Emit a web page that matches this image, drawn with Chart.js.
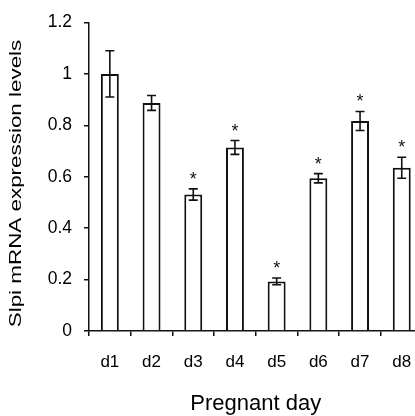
<!DOCTYPE html>
<html>
<head>
<meta charset="utf-8">
<script src="https://cdn.jsdelivr.net/npm/chart.js@4"></script>
<style>
  html, body { margin: 0; padding: 0; background: #fff; overflow: hidden; }
  #wrap { width: 415px; height: 416px; overflow: hidden; }
  canvas { display: block; }
</style>
</head>
<body>
<div id="wrap"><canvas id="slpiChart" width="430" height="416"></canvas></div>
<script>
// ===== DATA =====
const days = ['d1', 'd2', 'd3', 'd4', 'd5', 'd6', 'd7', 'd8'];
const means = [1.0, 0.887, 0.531, 0.714, 0.193, 0.594, 0.817, 0.635];
const errors = [0.09, 0.029, 0.022, 0.027, 0.013, 0.018, 0.037, 0.041];
const significant = [false, false, true, true, true, true, true, true];
const yTicks = [0, 0.2, 0.4, 0.6, 0.8, 1, 1.2];

const FONT = "'Liberation Sans', Arial, sans-serif";
const INK = '#111';

// error bars + asterisks, positioned through the chart scales
const errorBarPlugin = {
  id: 'errorBars',
  afterDatasetsDraw(chart) {
    const ctx = chart.ctx;
    const yScale = chart.scales.y;
    const meta = chart.getDatasetMeta(0);
    ctx.save();
    ctx.strokeStyle = INK;
    ctx.lineWidth = 1.6;
    ctx.fillStyle = INK;
    ctx.font = `18px ${FONT}`;
    ctx.textAlign = 'center';
    ctx.textBaseline = 'alphabetic';
    meta.data.forEach((bar, i) => {
      const x = bar.x;
      const top = yScale.getPixelForValue(means[i] + errors[i]);
      const bot = yScale.getPixelForValue(means[i] - errors[i]);
      ctx.beginPath();
      ctx.moveTo(x, top); ctx.lineTo(x, bot);
      ctx.moveTo(x - 4.5, top); ctx.lineTo(x + 4.5, top);
      ctx.moveTo(x - 4.5, bot); ctx.lineTo(x + 4.5, bot);
      ctx.stroke();
      if (significant[i]) ctx.fillText('*', x, top - 4);
    });
    ctx.restore();
  }
};

const chart = new Chart(document.getElementById('slpiChart'), {
  type: 'bar',
  data: {
    labels: days,
    datasets: [{
      data: means,
      backgroundColor: '#fff',
      borderColor: INK,
      borderWidth: 2,
      barPercentage: 0.43,
      categoryPercentage: 1,
    }]
  },
  plugins: [errorBarPlugin],
  options: {
    responsive: false,
    animation: false,
    layout: { padding: { top: 20, right: 7.4, bottom: 0, left: 0 } },
    plugins: { legend: { display: false }, tooltip: { enabled: false } },
    scales: {
      x: {
        afterFit: s => { s.height = 85; },
        grid: { drawOnChartArea: false, tickLength: 5, color: INK, lineWidth: 1.5 },
        border: { color: INK, width: 1.5 },
        ticks: { color: '#000', font: { family: FONT, size: 17 }, padding: 16, maxRotation: 0 },
        title: {
          display: true, text: 'Pregnant day', color: '#000',
          font: { family: FONT, size: 22, lineHeight: 1 },
          padding: { top: 0, bottom: 1 }
        }
      },
      y: {
        min: 0, max: 1.2,
        afterFit: s => { s.width = 89; },
        afterBuildTicks: s => { s.ticks = yTicks.map(v => ({ value: v })); },
        grid: { drawOnChartArea: false, tickLength: 5, color: INK, lineWidth: 1.5 },
        border: { color: INK, width: 1.5 },
        ticks: { color: '#000', font: { family: FONT, size: 17.5 }, padding: 12,
          callback: v => String(+v.toFixed(1)) },
        title: {
          display: true, text: 'Slpi mRNA expression levels', color: '#000',
          font: { family: FONT, size: 16, lineHeight: 1.2 },
          padding: { top: 7, bottom: 0 }
        }
      }
    }
  }
});

// ===== STRETCHED Y TITLE (reference text is elongated along its axis) =====
const yScale = chart.scales.y;
const baseDrawTitle = yScale.drawTitle.bind(yScale);
yScale.drawTitle = function () {
  const ctx = this.ctx;
  const mid = (chart.chartArea.top + chart.chartArea.bottom) / 2;
  ctx.save();
  ctx.translate(0, 183.5);
  ctx.scale(1, 1.4);
  ctx.translate(0, -mid);
  baseDrawTitle();
  ctx.restore();
};
chart.render();
</script>
</body>
</html>
